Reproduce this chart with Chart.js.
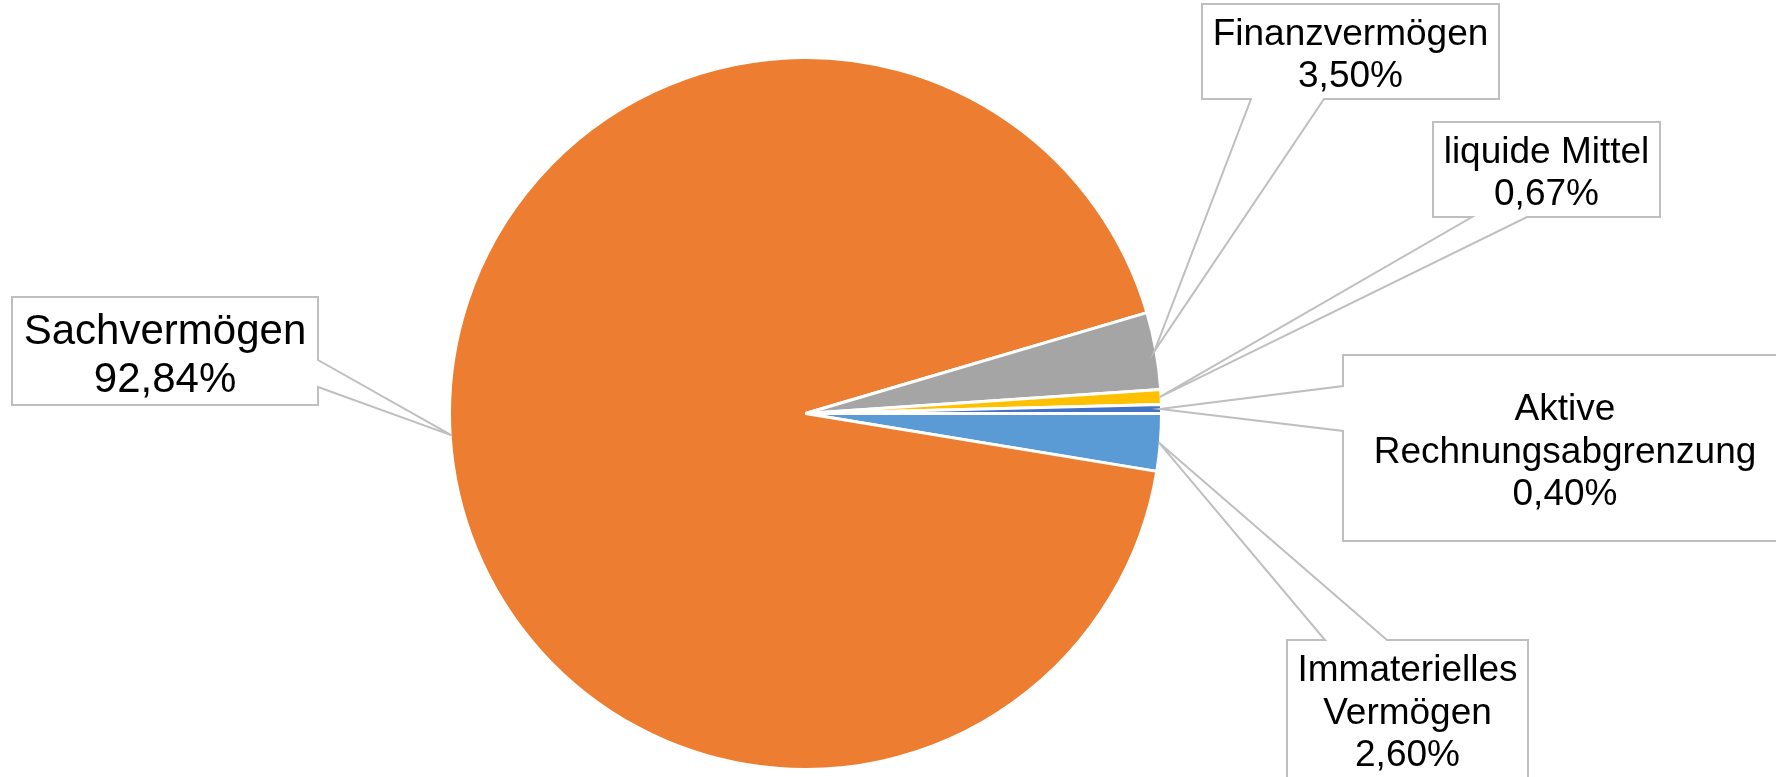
<!DOCTYPE html>
<html>
<head>
<meta charset="utf-8">
<title>Vermögensstruktur</title>
<script src="https://cdn.jsdelivr.net/npm/chart.js@4/dist/chart.umd.min.js"></script>
<style>
  html, body { margin: 0; padding: 0; background: #fff; }
  #wrap { width: 1776px; height: 777px; }
</style>
</head>
<body>
<div id="wrap"><canvas id="pie" width="1776" height="777"></canvas></div>
<script>
// data, clockwise starting at 3 o'clock
const categories = [
    ["Immaterielles", "Vermögen"],
    ["Sachvermögen"],
    ["Finanzvermögen"],
    ["liquide Mittel"],
    ["Aktive", "Rechnungsabgrenzung"]
];
const shares = [2.60, 92.84, 3.50, 0.67, 0.40];
const sliceColors = ['#5B9BD5', '#ED7D31', '#A5A5A5', '#FFC000', '#4472C4'];

// callout boxes (same order as data): box rect, side the pointer leaves from, opening on that side
const callouts = [
    { x: 1287, y: 640, w: 241, h: 138, side: 'top',    a: 1325, b: 1387, font: 37, lh: 42.5 },
    { x: 12,   y: 297, w: 306, h: 108, side: 'right',  a: 360,  b: 387,  font: 42, lh: 48.5 },
    { x: 1202, y: 4,   w: 297, h: 95,  side: 'bottom', a: 1251, b: 1324, font: 37, lh: 42 },
    { x: 1433, y: 122, w: 227, h: 95,  side: 'bottom', a: 1472, b: 1527, font: 37, lh: 42 },
    { x: 1343, y: 355, w: 444, h: 186, side: 'left',   a: 386,  b: 431,  font: 37, lh: 42.5 }
];

function fmt(v) {
    return v.toFixed(2).replace('.', ',') + '%';
}

const calloutPlugin = {
    id: 'callouts',
    afterDraw(chart) {
        const ctx = chart.ctx;
        const arcs = chart.getDatasetMeta(0).data;
        ctx.save();
        arcs.forEach((arc, i) => {
            const c = callouts[i];
            const p = arc.getProps(['x', 'y', 'startAngle', 'endAngle', 'outerRadius'], true);
            const mid = (p.startAngle + p.endAngle) / 2;
            const r = p.outerRadius - 1.5;
            const tx = p.x + Math.cos(mid) * r;
            const ty = p.y + Math.sin(mid) * r;

            const L = c.x, T = c.y, R = c.x + c.w, B = c.y + c.h;
            ctx.beginPath();
            ctx.moveTo(L, T);
            if (c.side === 'top') { ctx.lineTo(c.a, T); ctx.lineTo(tx, ty); ctx.lineTo(c.b, T); }
            ctx.lineTo(R, T);
            if (c.side === 'right') { ctx.lineTo(R, c.a); ctx.lineTo(tx, ty); ctx.lineTo(R, c.b); }
            ctx.lineTo(R, B);
            if (c.side === 'bottom') { ctx.lineTo(c.b, B); ctx.lineTo(tx, ty); ctx.lineTo(c.a, B); }
            ctx.lineTo(L, B);
            if (c.side === 'left') { ctx.lineTo(L, c.b); ctx.lineTo(tx, ty); ctx.lineTo(L, c.a); }
            ctx.closePath();
            ctx.fillStyle = '#fff';
            ctx.fill();
            ctx.lineWidth = 2;
            ctx.strokeStyle = '#BFBFBF';
            ctx.stroke();

            const lines = categories[i].concat([fmt(shares[i])]);
            ctx.fillStyle = '#000';
            ctx.font = c.font + 'px "Liberation Sans", Arial, sans-serif';
            ctx.textAlign = 'center';
            ctx.textBaseline = 'alphabetic';
            const cx = c.x + c.w / 2;
            const cy = c.y + c.h / 2;
            lines.forEach((t, k) => {
                const yMid = cy + (k - (lines.length - 1) / 2) * c.lh;
                ctx.fillText(t, cx, yMid + c.font * 0.4);
            });
        });
        ctx.restore();
    }
};

new Chart(document.getElementById('pie'), {
    type: 'pie',
    data: {
        labels: categories.map(c => c.join(' ')),
        datasets: [{
            data: shares,
            backgroundColor: sliceColors,
            borderColor: '#fff',
            borderWidth: 3,
            hoverOffset: 0
        }]
    },
    options: {
        responsive: false,
        animation: false,
        devicePixelRatio: 1,
        rotation: 90,
        radius: 356,
        layout: { padding: { left: 0, right: 165, top: 50, bottom: 0 } },
        plugins: {
            legend: { display: false },
            tooltip: { enabled: false }
        }
    },
    plugins: [calloutPlugin]
});
</script>
</body>
</html>
